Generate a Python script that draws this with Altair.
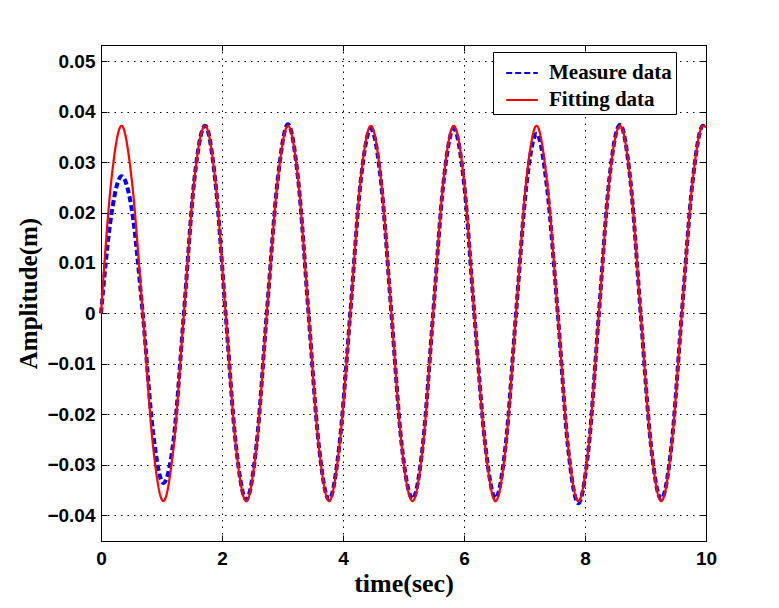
import altair as alt
import pandas as pd

time_s = [0.00, 0.17, 0.34, 0.51, 0.69, 0.86, 1.03, 1.20, 1.37, 1.54,
          1.72, 1.89, 2.06, 2.23, 2.40, 2.57, 2.74, 2.92, 3.09, 3.26,
          3.43, 3.60, 3.77, 3.94, 4.12, 4.29, 4.46, 4.63, 4.80, 4.97,
          5.15, 5.32, 5.49, 5.66, 5.83, 6.00, 6.17, 6.35, 6.52, 6.69,
          6.86, 7.03, 7.20, 7.37, 7.55, 7.72, 7.89, 8.06, 8.23, 8.40,
          8.58, 8.75, 8.92, 9.09, 9.26, 9.43, 9.60, 9.78, 9.95, 10.00]

measure_m = [0.0000, 0.0195, 0.0272, 0.0205, 0.0000, -0.0235, -0.0336, -0.0250,
             0.0000, 0.0262, 0.0372, 0.0262, 0.0000, -0.0261, -0.0369, -0.0261,
             0.0000, 0.0264, 0.0375, 0.0264, 0.0000, -0.0261, -0.0369, -0.0261,
             0.0000, 0.0259, 0.0366, 0.0259, 0.0000, -0.0260, -0.0367, -0.0260,
             0.0000, 0.0259, 0.0366, 0.0259, 0.0000, -0.0259, -0.0366, -0.0259,
             0.0000, 0.0252, 0.0356, 0.0252, 0.0000, -0.0266, -0.0376, -0.0266,
             0.0000, 0.0264, 0.0374, 0.0264, 0.0000, -0.0261, -0.0368, -0.0261,
             0.0000, 0.0263, 0.0372, 0.0368]

fitting_m = [0.0000, 0.0263, 0.0372, 0.0263, 0.0000, -0.0263, -0.0372, -0.0263,
             0.0000, 0.0263, 0.0372, 0.0263, 0.0000, -0.0263, -0.0372, -0.0263,
             0.0000, 0.0263, 0.0372, 0.0263, 0.0000, -0.0263, -0.0372, -0.0263,
             0.0000, 0.0263, 0.0372, 0.0263, 0.0000, -0.0263, -0.0372, -0.0263,
             0.0000, 0.0263, 0.0372, 0.0263, 0.0000, -0.0263, -0.0372, -0.0263,
             0.0000, 0.0263, 0.0372, 0.0263, 0.0000, -0.0263, -0.0372, -0.0263,
             0.0000, 0.0263, 0.0372, 0.0263, 0.0000, -0.0263, -0.0372, -0.0263,
             0.0000, 0.0263, 0.0372, 0.0369]

series_names = ["Measure data", "Fitting data"]
series_colors = ["#0000ff", "#ff0000"]
x_ticks = [0, 2, 4, 6, 8, 10]
y_ticks = [-0.04, -0.03, -0.02, -0.01, 0, 0.01, 0.02, 0.03, 0.04, 0.05]

rows = []
for t, m, f in zip(time_s, measure_m, fitting_m):
    rows.append({"t": t, "amp": m, "series": series_names[0]})
    rows.append({"t": t, "amp": f, "series": series_names[1]})
df = pd.DataFrame(rows)

x_scale = alt.Scale(domain=[0, 10], nice=False, zero=False)
y_scale = alt.Scale(domain=[-0.0451, 0.0532], nice=False, zero=False)
inward = alt.ExprRef(expr="-6")

color_enc = alt.Color(
    "series:N",
    scale=alt.Scale(domain=series_names, range=series_colors),
    legend=alt.Legend(
        orient="none", legendX=392, legendY=7, title="",
        titlePadding=0, titleFontSize=0, zindex=2,
        labelFont="Liberation Serif", labelFontWeight="bold", labelFontSize=21,
        labelColor="black", symbolType="stroke", symbolSize=1000,
        symbolStrokeWidth=2, strokeColor="black", fillColor="white",
        padding=4, rowPadding=0, labelOffset=10, symbolOffset=8,
        cornerRadius=0,
    ),
)
dash_enc = alt.StrokeDash(
    "series:N",
    scale=alt.Scale(domain=series_names, range=[[6, 3], [1, 0]]),
    legend=alt.Legend(orient="none", legendX=392, legendY=7, title=""),
)

lab_font = dict(labelFont="Liberation Sans", labelFontWeight="bold",
                labelFontSize=19, labelColor="black", labelFlush=False)

x_main = alt.X("t:Q", scale=x_scale, axis=alt.Axis(
    values=x_ticks, title="time(sec)", titleFont="Liberation Serif",
    titleFontWeight="bold", titleFontSize=26, titleColor="black",
    titlePadding=2, labelPadding=14, tickSize=inward, tickColor="black",
    domainColor="black", grid=True, gridColor="black", gridDash=[1.5, 5],
    gridOpacity=1, **lab_font))
y_main = alt.Y("amp:Q", scale=y_scale, axis=alt.Axis(
    values=y_ticks, title="Amplitude(m)", titleFont="Liberation Serif",
    titleFontWeight="bold", titleFontSize=25, titleColor="black",
    titlePadding=5, labelPadding=12, tickSize=inward, tickColor="black",
    domainColor="black", grid=True, gridColor="black", gridDash=[1.5, 5],
    gridOpacity=1,
    labelExpr="datum.value == 0 ? '0' : format(datum.value, '.2f')",
    **lab_font))

x_top = alt.X("t:Q", scale=x_scale, axis=alt.Axis(
    orient="top", values=x_ticks, title="", labels=False, grid=False,
    tickSize=inward, tickColor="black", domainColor="black"))
y_right = alt.Y("amp:Q", scale=y_scale, axis=alt.Axis(
    orient="right", values=y_ticks, title="", labels=False, grid=False,
    tickSize=inward, tickColor="black", domainColor="black"))

base = alt.Chart(df)
measure = base.transform_filter(alt.datum.series == series_names[0]).mark_line(
    strokeWidth=4, interpolate="monotone"
).encode(x=x_main, y=y_main, color=color_enc, strokeDash=dash_enc)

fitting = base.transform_filter(alt.datum.series == series_names[1]).mark_line(
    strokeWidth=2.2, interpolate="monotone"
).encode(x=x_top, y=y_right, color=color_enc, strokeDash=dash_enc)

chart = alt.layer(measure, fitting).resolve_axis(
    x="independent", y="independent"
).properties(
    width=605, height=496, autosize="none",
    padding={"left": 93, "top": 37, "right": 60, "bottom": 60},
    background="white",
).configure_view(stroke="black", strokeWidth=1)

chart.save("out.html", embed_options={"renderer": "svg", "actions": False})
